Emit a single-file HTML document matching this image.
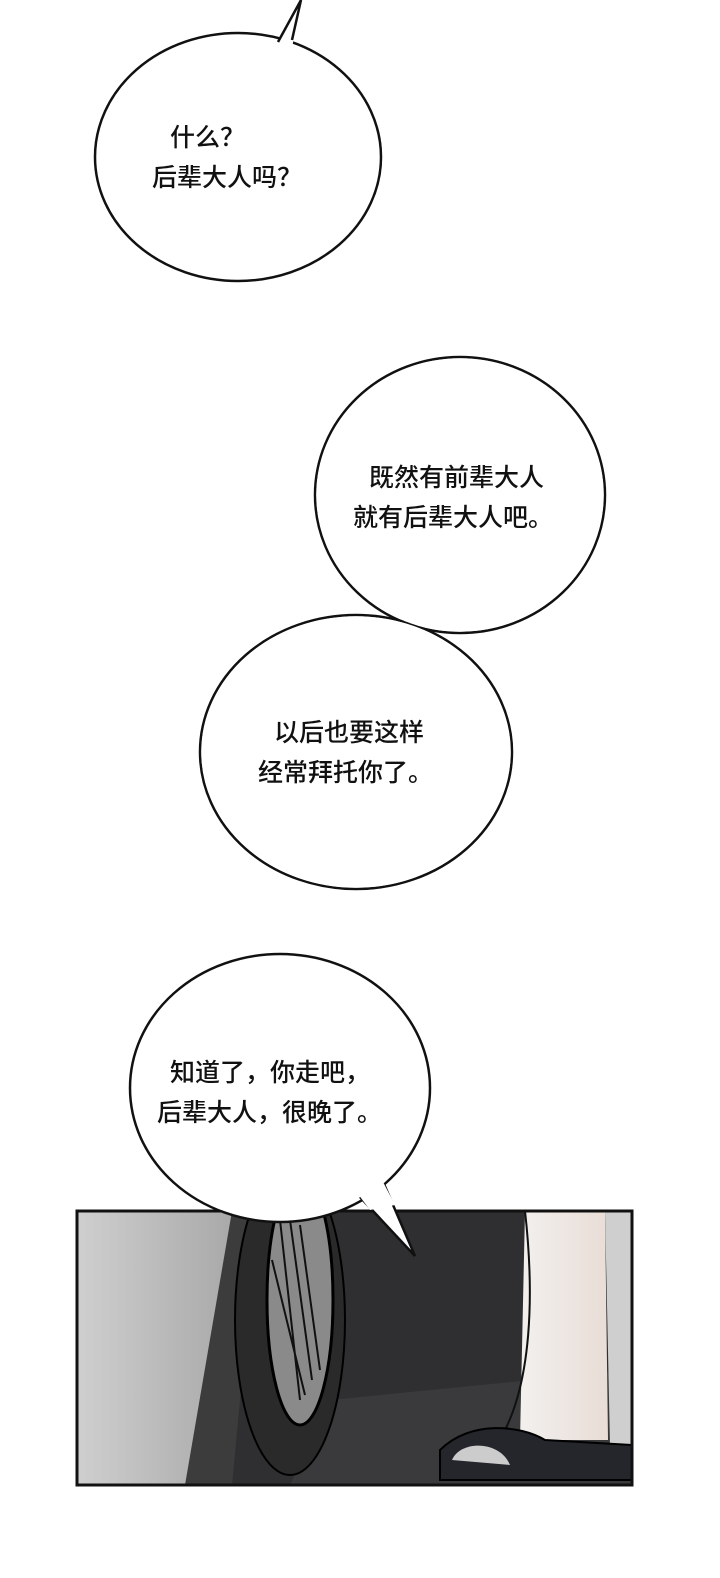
<!DOCTYPE html>
<html><head><meta charset="utf-8"><style>
html,body{margin:0;padding:0;background:#fff}
svg{display:block}
text{font-family:"Liberation Sans","Noto Sans CJK SC",sans-serif;font-size:25px;fill:#111;font-weight:500}
</style></head><body>
<svg width="720" height="1578" viewBox="0 0 720 1578">
<rect width="720" height="1578" fill="#fff"/>
<defs>
<linearGradient id="wall" x1="0" y1="0" x2="1" y2="0"><stop offset="0" stop-color="#cfcfcf"/><stop offset="1" stop-color="#a9a9a9"/></linearGradient>
<linearGradient id="leg" x1="0" y1="0" x2="1" y2="0"><stop offset="0" stop-color="#f2f0ee"/><stop offset="1" stop-color="#e9ddd6"/></linearGradient>
<clipPath id="pc"><rect x="77" y="1211" width="555" height="274"/></clipPath>
</defs>
<g clip-path="url(#pc)">
<rect x="77" y="1211" width="555" height="274" fill="#2f2f31"/>
<polygon points="330,1400 632,1370 632,1485 290,1485" fill="#3a3a3c"/>
<polygon points="77,1211 232,1211 230,1485 77,1485" fill="url(#wall)"/>
<path d="M232,1211 L260,1211 L240,1400 L232,1485 L185,1485 Z" fill="#3c3c3c"/>
<ellipse cx="290" cy="1320" rx="55" ry="155" fill="#2a2a2a" stroke="#000" stroke-width="2"/>
<ellipse cx="300" cy="1300" rx="33" ry="125" fill="#8a8a8a" stroke="#000" stroke-width="3"/>
<path d="M280,1220 L300,1400 M290,1220 L312,1380 M300,1225 L320,1370 M272,1260 L305,1395" stroke="#111" stroke-width="2"/>
<path d="M525,1211 L605,1211 L608,1440 L520,1440 Z" fill="url(#leg)"/>
<path d="M605,1211 L632,1211 L632,1445 L610,1445 Z" fill="#cfcfcf"/>
<path d="M525,1211 C535,1300 530,1380 505,1430" stroke="#111" stroke-width="2" fill="none"/>
<path d="M440,1450 C470,1420 520,1425 545,1440 L632,1445 L632,1480 L440,1480 Z" fill="#24262c" stroke="#000" stroke-width="2"/>
<path d="M452,1460 C460,1440 500,1440 510,1465 Z" fill="#ccc"/>
</g>
<rect x="77" y="1211" width="555" height="274" fill="none" stroke="#111" stroke-width="3"/>
<!-- bubble 1 -->
<ellipse cx="238" cy="157" rx="143" ry="124" fill="#fff" stroke="#111" stroke-width="2.5"/>
<polygon points="276,48 301,0 292,48" fill="#fff"/>
<path d="M278,42 L301,0 L292,40" fill="none" stroke="#111" stroke-width="2.5"/>
<!-- bubbles 2,3 -->
<ellipse cx="460" cy="495" rx="145" ry="138" fill="#fff" stroke="#111" stroke-width="2.5"/>
<ellipse cx="356" cy="752" rx="156" ry="137" fill="#fff" stroke="#111" stroke-width="2.5"/>
<ellipse cx="460" cy="495" rx="143.7" ry="136.7" fill="#fff"/>
<ellipse cx="356" cy="752" rx="154.7" ry="135.7" fill="#fff"/>
<!-- bubble 4 -->
<ellipse cx="280" cy="1088" rx="150" ry="134" fill="#fff" stroke="#111" stroke-width="2.5"/>
<path d="M360,1197 L415,1256 L384,1184" fill="#fff" stroke="#111" stroke-width="2.5"/>
<path d="M355,1190 L382,1180 L395,1205 L370,1210 Z" fill="#fff"/>
<text x="170" y="146">什么？</text>
<text x="152" y="186">后辈大人吗？</text>
<text x="369" y="486">既然有前辈大人</text>
<text x="353" y="526">就有后辈大人吧。</text>
<text x="274" y="741">以后也要这样</text>
<text x="258" y="781">经常拜托你了。</text>
<text x="170" y="1081">知道了，你走吧，</text>
<text x="157" y="1121">后辈大人，很晚了。</text>
</svg>
</body></html>
